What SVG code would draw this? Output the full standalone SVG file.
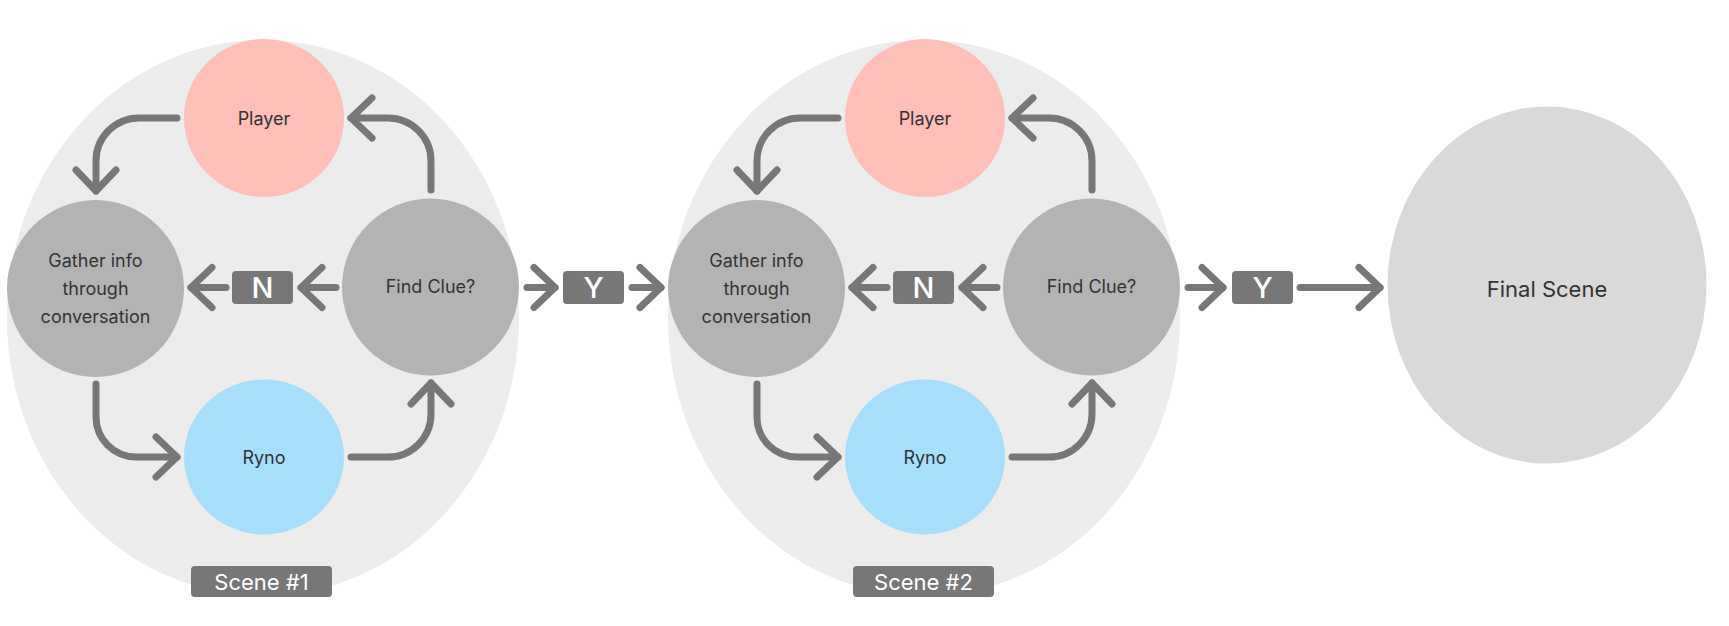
<svg xmlns="http://www.w3.org/2000/svg" width="1729" height="626" viewBox="0 0 1729 626">
<style>
.scene{fill:#ececec}
.player{fill:#fdbfb7}
.ryno{fill:#a6defc}
.grey{fill:#b3b3b3}
.final{fill:#d9d9d9}
.t{font-family:Inter,"Noto Sans",sans-serif;font-size:18px;fill:#333;text-anchor:middle}
.tf{font-family:Inter,"Noto Sans",sans-serif;font-size:22px;fill:#333;text-anchor:middle}
.tag{fill:#777}
.tt{font-family:Inter,"Noto Sans",sans-serif;font-size:29px;font-weight:500;fill:#fff;text-anchor:middle}
.ts{font-family:Inter,"Noto Sans",sans-serif;font-size:22px;fill:#fff;text-anchor:middle}
.c{fill:none;stroke:#777;stroke-width:7;stroke-linecap:round;stroke-linejoin:round}
</style>
<defs>
<marker id="chev" markerUnits="userSpaceOnUse" markerWidth="40" markerHeight="50" viewBox="-30 -25 40 50" refX="0" refY="0" orient="auto" overflow="visible">
<path d="M-21,-20 L0,0 L-21,20" fill="none" stroke="#777" stroke-width="7" stroke-linecap="round" stroke-linejoin="round"/>
</marker>
</defs>

<g id="scene1">
<ellipse class="scene" cx="263" cy="318" rx="256" ry="278"/>
</g>
<g id="scene2">
<ellipse class="scene" cx="924" cy="318" rx="256" ry="278"/>
</g>

<g id="player1"><ellipse class="player" cx="264" cy="118" rx="80" ry="79"/><text class="t" x="264" y="125">Player</text></g>
<g id="gather1"><ellipse class="grey" cx="95.5" cy="288.5" rx="88.5" ry="88.5"/><text class="t" x="95.5" y="267">Gather info</text><text class="t" x="95.5" y="295">through</text><text class="t" x="95.5" y="323">conversation</text></g>
<g id="find1"><ellipse class="grey" cx="430.5" cy="287" rx="88.5" ry="88.5"/><text class="t" x="430.5" y="293">Find Clue?</text></g>
<g id="ryno1"><ellipse class="ryno" cx="264" cy="457" rx="80" ry="77.5"/><text class="t" x="264" y="464">Ryno</text></g>
<g id="n1"><rect class="tag" x="232" y="271" width="61" height="33" rx="4"/><text class="tt" x="262.5" y="298">N</text></g>
<g id="label1"><rect class="tag" x="191" y="566" width="141" height="31" rx="4"/><text class="ts" x="261.5" y="590">Scene #1</text></g>

<g id="player2"><ellipse class="player" cx="925" cy="118" rx="80" ry="79"/><text class="t" x="925" y="125">Player</text></g>
<g id="gather2"><ellipse class="grey" cx="756.5" cy="288.5" rx="88.5" ry="88.5"/><text class="t" x="756.5" y="267">Gather info</text><text class="t" x="756.5" y="295">through</text><text class="t" x="756.5" y="323">conversation</text></g>
<g id="find2"><ellipse class="grey" cx="1091.5" cy="287" rx="88.5" ry="88.5"/><text class="t" x="1091.5" y="293">Find Clue?</text></g>
<g id="ryno2"><ellipse class="ryno" cx="925" cy="457" rx="80" ry="77.5"/><text class="t" x="925" y="464">Ryno</text></g>
<g id="n2"><rect class="tag" x="893" y="271" width="61" height="33" rx="4"/><text class="tt" x="923.5" y="298">N</text></g>
<g id="label2"><rect class="tag" x="853" y="566" width="141" height="31" rx="4"/><text class="ts" x="923.5" y="590">Scene #2</text></g>

<g id="y1"><rect class="tag" x="563" y="271" width="61" height="33" rx="4"/><text class="tt" x="593.5" y="298">Y</text></g>
<g id="y2"><rect class="tag" x="1232" y="271" width="61" height="33" rx="4"/><text class="tt" x="1262.5" y="298">Y</text></g>

<g id="final"><ellipse class="final" cx="1547" cy="285" rx="159.5" ry="178.5"/><text class="tf" x="1547" y="297">Final Scene</text></g>

<g id="connectors">
<path class="c" marker-end="url(#chev)" d="M177,118 H139 A43,43 0 0 0 96,161 V191"/>
<path class="c" marker-end="url(#chev)" d="M96,384 V417 A40,40 0 0 0 136,457 H177"/>
<path class="c" marker-end="url(#chev)" d="M351,457 H388 A43,43 0 0 0 431,414 V383"/>
<path class="c" marker-end="url(#chev)" d="M431,190 V161 A43,43 0 0 0 388,118 H351"/>
<path class="c" marker-end="url(#chev)" d="M336,287.5 H301"/>
<path class="c" marker-end="url(#chev)" d="M226,287.5 H191"/>

<path class="c" marker-end="url(#chev)" d="M838,118 H800 A43,43 0 0 0 757,161 V191"/>
<path class="c" marker-end="url(#chev)" d="M757,384 V417 A40,40 0 0 0 797,457 H838"/>
<path class="c" marker-end="url(#chev)" d="M1012,457 H1049 A43,43 0 0 0 1092,414 V383"/>
<path class="c" marker-end="url(#chev)" d="M1092,190 V161 A43,43 0 0 0 1049,118 H1012"/>
<path class="c" marker-end="url(#chev)" d="M997,287.5 H962"/>
<path class="c" marker-end="url(#chev)" d="M887,287.5 H852"/>

<path class="c" marker-end="url(#chev)" d="M527,287.5 H555"/>
<path class="c" marker-end="url(#chev)" d="M632,287.5 H661"/>
<path class="c" marker-end="url(#chev)" d="M1188,287.5 H1223"/>
<path class="c" marker-end="url(#chev)" d="M1300,287.5 H1380"/>
</g>
</svg>
